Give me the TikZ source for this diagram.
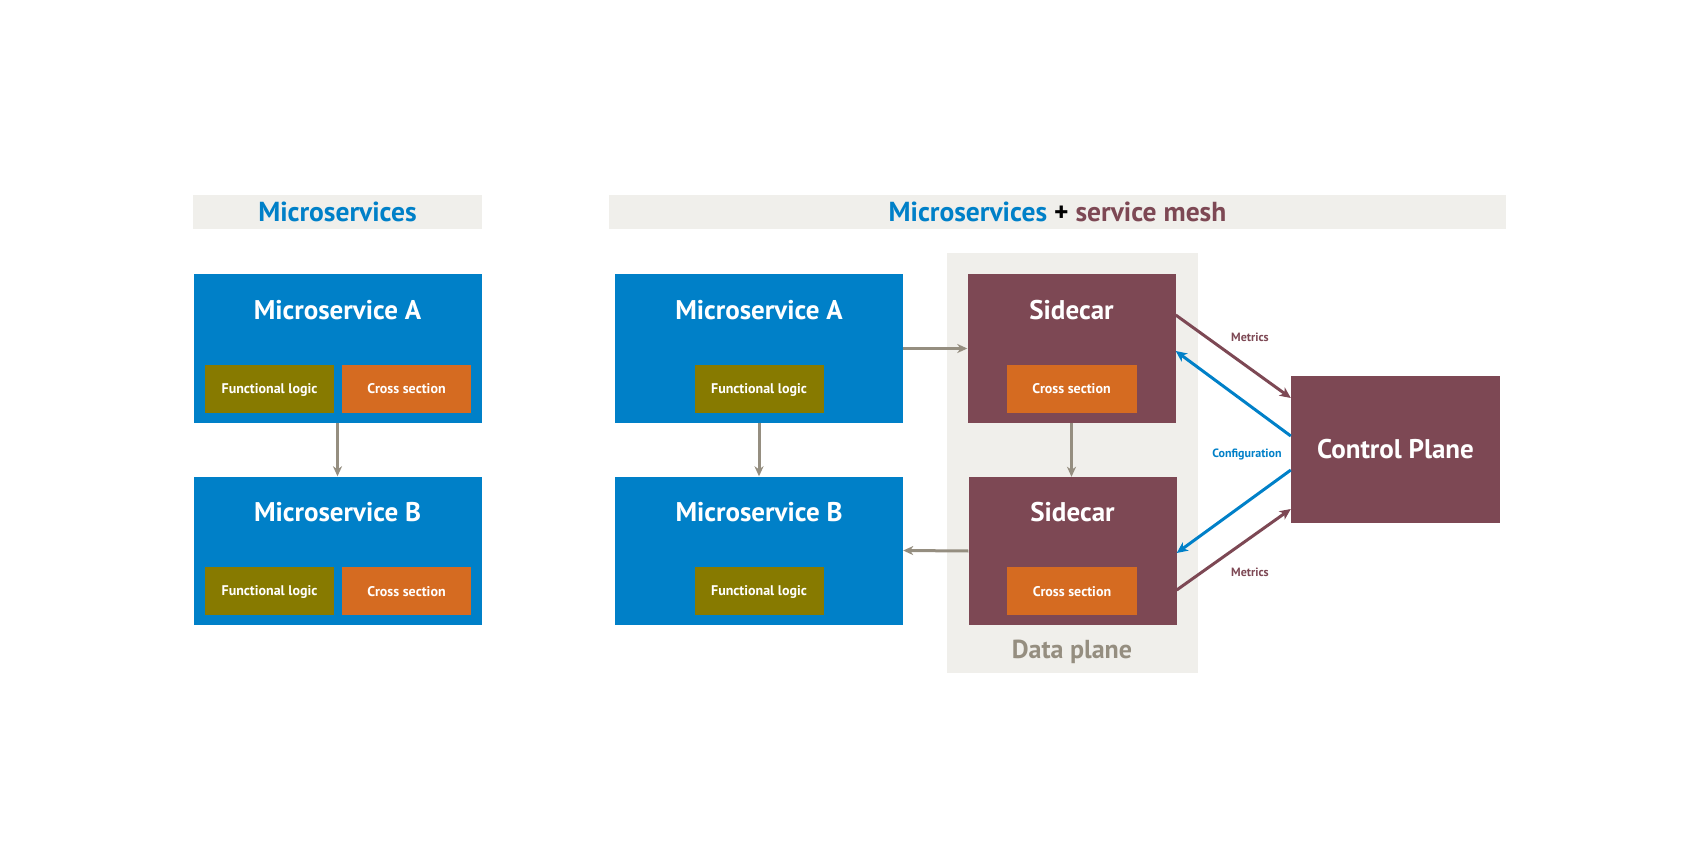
\documentclass[tikz,border=0pt]{standalone}
\usepackage{fontspec}
\setmainfont{PT Sans}
\usetikzlibrary{positioning,arrows.meta}

\definecolor{msblue}{RGB}{0,128,200}
\definecolor{olive}{RGB}{135,122,0}
\definecolor{crossorange}{RGB}{213,107,33}
\definecolor{meshred}{RGB}{125,72,84}
\definecolor{paleband}{RGB}{240,239,235}
\definecolor{flowgray}{RGB}{149,142,128}

\begin{document}
\begin{tikzpicture}[x=1pt,y=-1pt,
    every node/.style={inner sep=0pt,font=\bfseries},
    band/.style={rectangle,fill=paleband,minimum height=34pt},
    svcbox/.style={rectangle,fill=msblue,minimum width=288pt,minimum height=148pt},
    carbox/.style={rectangle,fill=meshred,minimum width=208pt,minimum height=148pt},
    title/.style={text=white,font=\bfseries\fontsize{27}{30}\selectfont},
    logicbox/.style={rectangle,fill=olive,minimum width=129pt,minimum height=48pt,text depth=0pt,text=white,font=\bfseries\fontsize{14}{16}\selectfont},
    crossbox/.style={logicbox,fill=crossorange},
    flow/.style={draw=flowgray,line width=3pt,-{Stealth[length=10pt,width=9pt,inset=3pt]}},
    meshflow/.style={line width=3pt,-{Stealth[length=11pt,width=10pt,inset=3pt]}},
    tag/.style={font=\bfseries\fontsize{12}{14}\selectfont}]
    \useasboundingbox (0,0) rectangle (1700,850);

    % headers
    \node[band,minimum width=289pt] (hdrL) at (337.5,212) {\textcolor{msblue}{\fontsize{27.5}{30}\selectfont Microservices}};
    \node[band,minimum width=897pt] (hdrR) at (1057.5,212) {\fontsize{27.5}{30}\selectfont\textcolor{msblue}{Microservices} + \textcolor{meshred}{service mesh}};

    % data plane
    \node[rectangle,fill=paleband,minimum width=251pt,minimum height=420pt] (dataplane) at (1072.5,463) {};
    \node[text=flowgray,font=\bfseries\fontsize{26}{30}\selectfont] (dptext) at (1072,652) {Data plane};

    % plain microservices
    \node[svcbox] (msAL) at (337.5,348.5) {};
    \node[title] (msALt) at (337.5,310) {Microservice A};
    \node[logicbox] (flAL) at (269.5,389) {Functional logic};
    \node[crossbox] (csAL) at (406.5,389) {Cross section};
    \node[svcbox] (msBL) at (337.5,550.5) {};
    \node[title] (msBLt) at (337.5,512) {Microservice B};
    \node[logicbox] (flBL) at (269.5,591) {Functional logic};
    \node[crossbox] (csBL) at (406.5,591) {Cross section};

    % with service mesh
    \node[svcbox] (msAR) at (759,348.5) {};
    \node[title] (msARt) at (759,310) {Microservice A};
    \node[logicbox] (flAR) at (759,389) {Functional logic};
    \node[svcbox] (msBR) at (759,550.5) {};
    \node[title] (msBRt) at (759,512) {Microservice B};
    \node[logicbox] (flBR) at (759,591) {Functional logic};

    \node[carbox] (scA) at (1071.5,348.5) {};
    \node[title] (scAt) at (1071.5,310) {Sidecar};
    \node[crossbox,minimum width=130pt] (csA) at (1071.5,389) {Cross section};
    \node[carbox] (scB) at (1072.5,551) {};
    \node[title] (scBt) at (1072.5,512) {Sidecar};
    \node[crossbox,minimum width=130pt] (csB) at (1072,591) {Cross section};

    \node[rectangle,fill=meshred,minimum width=209pt,minimum height=147pt,text=white,font=\bfseries\fontsize{27}{30}\selectfont] (cp) at (1395.5,449.5) {Control Plane};

    % traffic
    \foreach \u / \v in {msAL.south/msBL.north,msAR.south/msBR.north,msAR.east/scA.west,scB.west/msBR.east}
        \draw[flow] (\u) -- (\v);
    \draw[flow] (scA.south) -- (scA.south |- scB.north);

    % control traffic
    \draw[meshflow,draw=meshred] ([yshift=33.5pt]scA.east) -- ([yshift=51.5pt]cp.west);
    \draw[meshflow,draw=msblue] ([yshift=13.5pt]cp.west) -- ([yshift=-2.5pt]scA.east);
    \draw[meshflow,draw=msblue] ([yshift=-20.5pt]cp.west) -- ([yshift=-2pt]scB.east);
    \draw[meshflow,draw=meshred] ([yshift=-39pt]scB.east) -- ([yshift=-59.5pt]cp.west);

    \node[tag,text=meshred] (mtop) at (1250,337) {Metrics};
    \node[tag,text=msblue] (conf) at (1247,454) {Configuration};
    \node[tag,text=meshred] (mbot) at (1250,572) {Metrics};
\end{tikzpicture}
\end{document}
